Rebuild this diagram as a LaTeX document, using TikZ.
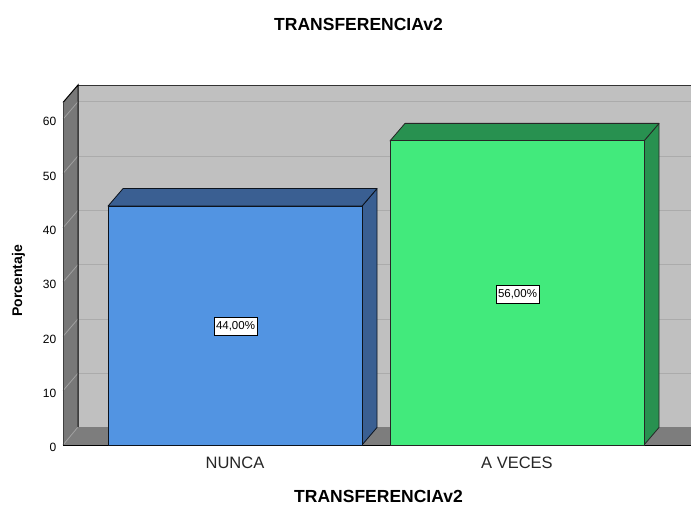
\documentclass[tikz,border=0pt]{standalone}
\usepackage{fontspec}
\setmainfont{Liberation Sans}
\definecolor{wallback}{HTML}{C0C0C0}
\definecolor{wallside}{HTML}{787878}
\definecolor{wallfloor}{HTML}{7D7D7D}
\definecolor{gridback}{HTML}{ABABAB}
\definecolor{gridside}{HTML}{A0A0A0}
\definecolor{bluefront}{HTML}{5294E2}
\definecolor{bluedark}{HTML}{3A5F92}
\definecolor{greenfront}{HTML}{42EA7C}
\definecolor{greendark}{HTML}{289150}
\tikzset{
  bfront/.style={fill=bluefront, draw=black!80!bluedark, line width=0.8pt, line join=round},
  bside/.style={fill=bluedark, draw=black!80!bluedark, line width=0.8pt, line join=round},
  gfront/.style={fill=greenfront, draw=black!85, line width=0.8pt, line join=round},
  gside/.style={fill=greendark, draw=black!85, line width=0.8pt, line join=round},
  vallabel/.style={draw=black, fill=white, line width=0.7pt, inner sep=2pt, minimum height=18pt, font=\fontsize{11.5}{13}\selectfont},
  ticklabel/.style={anchor=east, inner sep=0pt, font=\fontsize{12}{14}\selectfont},
  catlabel/.style={inner sep=0pt, font=\fontsize{16.5}{19}\selectfont, text=black!85},
  titlelabel/.style={inner sep=0pt, font=\bfseries\fontsize{17.5}{20}\selectfont},
}
\begin{document}
\begin{tikzpicture}[x=1pt,y=-1pt]
\useasboundingbox[fill=white] (0,0) rectangle (691,505);
% walls
\fill[wallback] (78,85) -- (691,85) -- (691,427) -- (78,427) -- cycle;
\fill[wallside] (63,102.5) -- (78,85) -- (78,427) -- (63,445) -- cycle;
\fill[wallfloor] (63,445) -- (78,427) -- (691,427) -- (691,445) -- cycle;
% grid
\foreach \v in {10,20,...,60}{
  \pgfmathsetmacro{\yf}{445-5.43*\v}
  \pgfmathsetmacro{\yb}{\yf-17.5}
  \draw[gridback, line width=0.8pt] (78,\yb) -- (691,\yb);
  \draw[gridside, line width=0.8pt] (63,\yf) -- (78,\yb);
  \node[ticklabel] (t\v) at (56.5,\yf+2.5) {\v};
}
\draw[gridside, line width=0.8pt] (63,445) -- (78,427);
\node[ticklabel] (t0) at (56.5,447.5) {0};
% frame
\draw[black!80, line width=0.8pt] (78,85) -- (691,85);
\draw[black, line width=1pt] (63,102.5) -- (78,85) -- (78,427);
\draw[black!75, line width=0.8pt] (63,102.5) -- (63,445);
\draw[black, line width=1pt] (63,445) -- (691,445);
% blue bar
\path[bside] (362,206.1) -- (377,188.6) -- (377,427.5) -- (362,445) -- cycle;
\path[bside] (108,206.1) -- (123,188.6) -- (377,188.6) -- (362,206.1) -- cycle;
\path[bfront] (108,445) rectangle (362,206.1);
% green bar
\path[gside] (644,140.9) -- (659,123.4) -- (659,427.5) -- (644,445) -- cycle;
\path[gside] (390,140.9) -- (405,123.4) -- (659,123.4) -- (644,140.9) -- cycle;
\path[gfront] (390,445) rectangle (644,140.9);
% value labels
\node[vallabel] (v1) at (235.5,326) {44,00\%};
\node[vallabel] (v2) at (517.5,294) {56,00\%};
% category labels
\node[catlabel] (c1) at (235,463) {NUNCA};
\node[catlabel] (c2) at (517,463) {A VECES};
% titles
\node[titlelabel] (title) at (358.5,24.5) {TRANSFERENCIAv2};
\node[titlelabel] (xtitle) at (378.5,496.5) {TRANSFERENCIAv2};
\node[titlelabel, rotate=90, font=\bfseries\fontsize{14}{16}\selectfont] (ytitle) at (18.5,281) {Porcentaje};
\end{tikzpicture}
\end{document}
